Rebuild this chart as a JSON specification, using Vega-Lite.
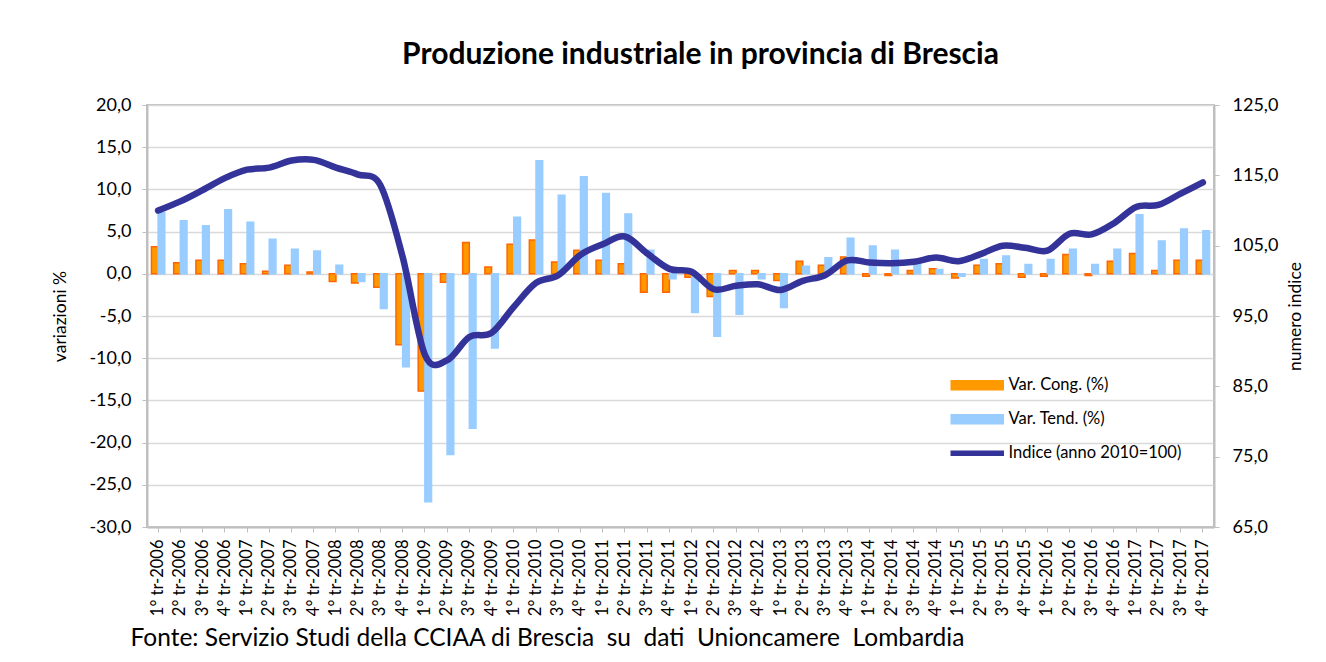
{
  "$schema": "https://vega.github.io/schema/vega-lite/v6.json",
  "autosize": {"type": "none"},
  "padding": {"left": 147, "top": 105, "right": 112, "bottom": 135},
  "width": 1067,
  "height": 422,
  "background": "white",
  "title": {
    "text": "Produzione industriale in provincia di Brescia",
    "font": "Lato",
    "fontSize": 30,
    "fontWeight": "bold",
    "color": "#000000",
    "anchor": "middle",
    "dx": 20,
    "baseline": "alphabetic",
    "offset": 2
  },
  "data": {
    "values": [
      {"q": "1° tr-2006", "cong": 3.2, "tend": 7.3, "indice": 110.0},
      {"q": "2° tr-2006", "cong": 1.3, "tend": 6.3, "indice": 111.3},
      {"q": "3° tr-2006", "cong": 1.6, "tend": 5.7, "indice": 112.9},
      {"q": "4° tr-2006", "cong": 1.6, "tend": 7.6, "indice": 114.6},
      {"q": "1° tr-2007", "cong": 1.2, "tend": 6.1, "indice": 115.8},
      {"q": "2° tr-2007", "cong": 0.3, "tend": 4.1, "indice": 116.1},
      {"q": "3° tr-2007", "cong": 1.0, "tend": 2.9, "indice": 117.1},
      {"q": "4° tr-2007", "cong": 0.2, "tend": 2.7, "indice": 117.2},
      {"q": "1° tr-2008", "cong": -0.9, "tend": 1.0, "indice": 116.1},
      {"q": "2° tr-2008", "cong": -1.1, "tend": -0.9, "indice": 115.1},
      {"q": "3° tr-2008", "cong": -1.6, "tend": -4.1, "indice": 113.6},
      {"q": "4° tr-2008", "cong": -8.4, "tend": -11.0, "indice": 103.4},
      {"q": "1° tr-2009", "cong": -13.9, "tend": -27.0, "indice": 89.5},
      {"q": "2° tr-2009", "cong": -1.0, "tend": -21.4, "indice": 88.7},
      {"q": "3° tr-2009", "cong": 3.7, "tend": -18.3, "indice": 92.0},
      {"q": "4° tr-2009", "cong": 0.8, "tend": -8.8, "indice": 92.6},
      {"q": "1° tr-2010", "cong": 3.5, "tend": 6.7, "indice": 96.3},
      {"q": "2° tr-2010", "cong": 4.0, "tend": 13.4, "indice": 99.7},
      {"q": "3° tr-2010", "cong": 1.4, "tend": 9.3, "indice": 100.8},
      {"q": "4° tr-2010", "cong": 2.8, "tend": 11.5, "indice": 103.7},
      {"q": "1° tr-2011", "cong": 1.6, "tend": 9.5, "indice": 105.2},
      {"q": "2° tr-2011", "cong": 1.2, "tend": 7.1, "indice": 106.3},
      {"q": "3° tr-2011", "cong": -2.2, "tend": 2.8, "indice": 103.9},
      {"q": "4° tr-2011", "cong": -2.2, "tend": -0.6, "indice": 101.7},
      {"q": "1° tr-2012", "cong": -0.4, "tend": -4.6, "indice": 101.3},
      {"q": "2° tr-2012", "cong": -2.7, "tend": -7.4, "indice": 98.8},
      {"q": "3° tr-2012", "cong": 0.4, "tend": -4.8, "indice": 99.3},
      {"q": "4° tr-2012", "cong": 0.4, "tend": -0.6, "indice": 99.5},
      {"q": "1° tr-2013", "cong": -0.8, "tend": -4.0, "indice": 98.7},
      {"q": "2° tr-2013", "cong": 1.5, "tend": 0.9, "indice": 100.0},
      {"q": "3° tr-2013", "cong": 1.0, "tend": 1.9, "indice": 100.8},
      {"q": "4° tr-2013", "cong": 2.0, "tend": 4.2, "indice": 102.9},
      {"q": "1° tr-2014", "cong": -0.3, "tend": 3.3, "indice": 102.6},
      {"q": "2° tr-2014", "cong": -0.2, "tend": 2.8, "indice": 102.5},
      {"q": "3° tr-2014", "cong": 0.4, "tend": 1.2, "indice": 102.7},
      {"q": "4° tr-2014", "cong": 0.6, "tend": 0.5, "indice": 103.3},
      {"q": "1° tr-2015", "cong": -0.5, "tend": -0.3, "indice": 102.8},
      {"q": "2° tr-2015", "cong": 1.0, "tend": 1.7, "indice": 103.8},
      {"q": "3° tr-2015", "cong": 1.2, "tend": 2.1, "indice": 105.0},
      {"q": "4° tr-2015", "cong": -0.4, "tend": 1.1, "indice": 104.7},
      {"q": "1° tr-2016", "cong": -0.3, "tend": 1.7, "indice": 104.3},
      {"q": "2° tr-2016", "cong": 2.3, "tend": 2.9, "indice": 106.7},
      {"q": "3° tr-2016", "cong": -0.2, "tend": 1.1, "indice": 106.6},
      {"q": "4° tr-2016", "cong": 1.5, "tend": 2.9, "indice": 108.2},
      {"q": "1° tr-2017", "cong": 2.4, "tend": 7.0, "indice": 110.5},
      {"q": "2° tr-2017", "cong": 0.4, "tend": 3.9, "indice": 110.8},
      {"q": "3° tr-2017", "cong": 1.6, "tend": 5.3, "indice": 112.4},
      {"q": "4° tr-2017", "cong": 1.6, "tend": 5.1, "indice": 114.0}
    ]
  },
  "encoding": {
    "x": {
      "field": "q",
      "type": "ordinal",
      "sort": null,
      "scale": {"paddingInner": 0.4, "paddingOuter": 0.2},
      "axis": {
        "labelAngle": -90,
        "labelAlign": "right",
        "labelBaseline": "middle",
        "labelFont": "Lato",
        "labelFontSize": 16.5,
        "labelColor": "#000000",
        "labelPadding": 7,
        "ticks": true,
        "tickSize": 5,
        "tickColor": "#BFBFBF",
        "domainColor": "#BFBFBF",
        "domainWidth": 2,
        "title": "Fonte: Servizio Studi della CCIAA di Brescia\u00a0 su\u00a0 dati\u00a0 Unioncamere\u00a0 Lombardia",
        "titleFont": "Lato",
        "titleFontSize": 24.5,
        "titleFontWeight": "normal",
        "titleColor": "#000000",
        "titleAlign": "left",
        "titleAnchor": "start",
        "titleBaseline": "middle",
        "titleX": -17,
        "titleY": 111
      }
    }
  },
  "layer": [
    {
      "transform": [{"fold": ["cong", "tend"], "as": ["serie", "val"]}],
      "mark": {"type": "bar", "strokeWidth": 1.5},
      "encoding": {
        "xOffset": {"field": "serie", "type": "nominal", "scale": {"domain": ["cong", "tend"]}},
        "y": {
          "field": "val",
          "type": "quantitative",
          "scale": {"domain": [-30, 20], "nice": false, "zero": false},
          "axis": {
            "values": [-30, -25, -20, -15, -10, -5, 0, 5, 10, 15, 20],
            "labelExpr": "replace(replace(format(datum.value, '.1f'), '.', ','), '\u2212', '-')",
            "labelFont": "Lato",
            "labelFontSize": 18,
            "labelColor": "#000000",
            "labelPadding": 11,
            "tickSize": 5,
            "tickColor": "#BFBFBF",
            "domainColor": "#BFBFBF",
            "domainWidth": 2,
            "grid": true,
            "gridColor": "#D9D9D9",
            "gridWidth": 1.5,
            "title": "variazioni %",
            "titleFont": "Lato",
            "titleFontSize": 17.5,
            "titleFontWeight": "normal",
            "titleColor": "#000000",
            "titleAngle": -90,
            "titleAlign": "center",
            "titleBaseline": "middle",
            "titleX": -87,
            "titleY": 211
          }
        },
        "color": {
          "field": "serie",
          "type": "nominal",
          "scale": {"domain": ["cong", "tend", "indice"], "range": ["#FF9900", "#99CCFF", "#333399"]},
          "legend": {
            "orient": "none",
            "legendX": 822,
            "legendY": 272,
            "padding": 0,
            "title": null,
            "symbolType": "M-4,-0.7H4V0.7H-4Z",
            "symbolSize": 169,
            "symbolOffset": 0,
            "labelOffset": 23,
            "labelLimit": 400,
            "labelFont": "Lato",
            "labelFontSize": 16.5,
            "labelColor": "#000000",
            "rowPadding": 17,
            "labelExpr": "datum.value === 'cong' ? 'Var. Cong. (%)' : datum.value === 'tend' ? 'Var. Tend. (%)' : 'Indice (anno 2010=100)'",
            "encode": {
              "symbols": {
                "update": {
                  "fill": {"signal": "datum.value === 'cong' ? '#FF9900' : datum.value === 'tend' ? '#99CCFF' : '#333399'"},
                  "stroke": {"signal": "datum.value === 'cong' ? '#FF6600' : datum.value === 'tend' ? '#99CCFF' : '#333399'"},
                  "strokeWidth": {"value": 1.5},
                  "shape": {"signal": "datum.value === 'indice' ? 'M-4,-0.3H4V0.3H-4Z' : 'M-4,-0.7H4V0.7H-4Z'"},
                  "opacity": {"value": 1},
                  "fillOpacity": {"value": 1}
                }
              }
            }
          }
        },
        "stroke": {
          "field": "serie",
          "type": "nominal",
          "scale": {"domain": ["cong", "tend"], "range": ["#FF6600", "#99CCFF"]},
          "legend": null
        }
      }
    },
    {
      "mark": {"type": "line", "interpolate": "cardinal", "strokeWidth": 6.5, "strokeCap": "round"},
      "encoding": {
        "y": {
          "field": "indice",
          "type": "quantitative",
          "scale": {"domain": [65, 125], "nice": false, "zero": false},
          "axis": {
            "orient": "right",
            "values": [65, 75, 85, 95, 105, 115, 125],
            "labelExpr": "replace(format(datum.value, '.1f'), '.', ',')",
            "labelFont": "Lato",
            "labelFontSize": 18,
            "labelColor": "#000000",
            "labelPadding": 13,
            "tickSize": 5,
            "tickColor": "#BFBFBF",
            "domainColor": "#BFBFBF",
            "domainWidth": 2,
            "grid": false,
            "title": "numero indice",
            "titleFont": "Lato",
            "titleFontSize": 17.5,
            "titleFontWeight": "normal",
            "titleColor": "#000000",
            "titleAngle": -90,
            "titleAlign": "center",
            "titleBaseline": "middle",
            "titleX": 81,
            "titleY": 211
          }
        },
        "color": {"datum": "indice", "type": "nominal"}
      }
    }
  ],
  "resolve": {"scale": {"y": "independent"}},
  "config": {
    "font": "Lato",
    "view": {"stroke": "#BFBFBF", "strokeWidth": 2}
  }
}
